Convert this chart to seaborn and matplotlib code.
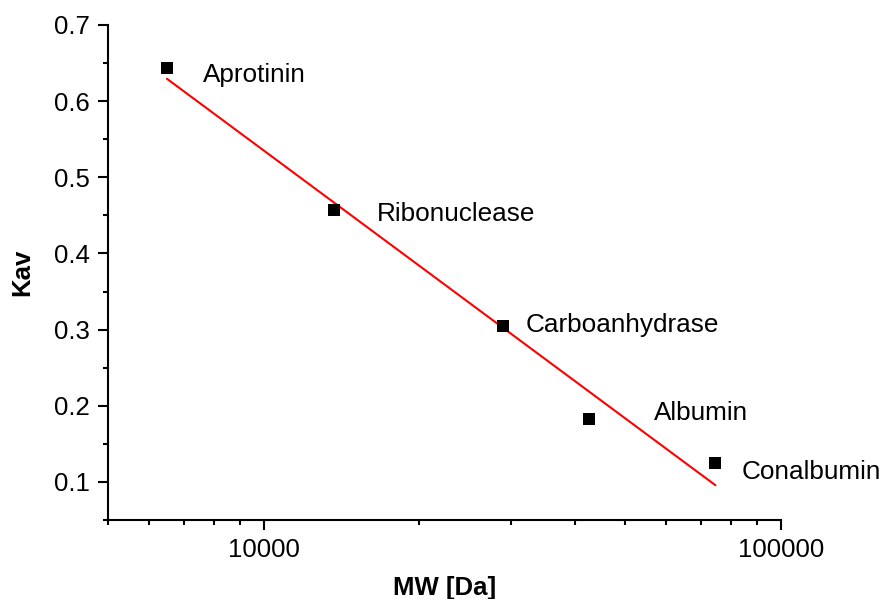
import numpy as np
import pandas as pd
import seaborn as sns
import matplotlib
matplotlib.use("Agg")
import matplotlib.pyplot as plt
from matplotlib.ticker import LogLocator, NullFormatter, FixedLocator, MultipleLocator

proteins = ["Aprotinin", "Ribonuclease", "Carboanhydrase", "Albumin", "Conalbumin"]
mw = [6500, 13700, 29000, 42600, 74700]
kav = [0.6435, 0.457, 0.3045, 0.182, 0.1253]
label_offsets = [(26, -5), (30.5, -2.5), (16.5, 0.5), (46.5, 4.5), (19, -6.5)]  # points

sns.set_theme(style="ticks")
plt.rcParams['font.family'] = ['Liberation Sans', 'DejaVu Sans']
plt.rcParams['text.color'] = 'black'
plt.rcParams['axes.labelcolor'] = 'black'

df = pd.DataFrame({"protein": proteins, "MW": mw, "Kav": kav})

fig = plt.figure(figsize=(8.84, 5.99), dpi=100)
ax = fig.add_axes([108/884, 1 - 520/599, (781-108)/884, (520-25)/599])

sns.regplot(data=df, x="MW", y="Kav", logx=True, ci=None, scatter=False,
            line_kws=dict(color="#ff0000", lw=1.5), ax=ax)
sns.scatterplot(data=df, x="MW", y="Kav", marker="s", s=64, color="black",
                edgecolor="black", linewidth=0, ax=ax, zorder=5)

for name, x, y, off in zip(proteins, mw, kav, label_offsets):
    ax.annotate(name, (x, y), xytext=off, textcoords="offset points",
                ha="left", va="center", fontsize=18.8, color="black")

ax.set_xscale("log")
ax.set_xlim(5000, 100000)
ax.set_ylim(0.05, 0.7)
ax.xaxis.set_major_locator(FixedLocator([10000, 100000]))
ax.xaxis.set_minor_locator(LogLocator(base=10, subs=np.arange(2, 10)))
ax.xaxis.set_minor_formatter(NullFormatter())
ax.set_xticklabels(["10000", "100000"])
ax.yaxis.set_major_locator(FixedLocator([0.1, 0.2, 0.3, 0.4, 0.5, 0.6, 0.7]))
ax.yaxis.set_minor_locator(MultipleLocator(0.05))
ax.set_yticklabels(["0.1", "0.2", "0.3", "0.4", "0.5", "0.6", "0.7"])

ax.tick_params(which="major", length=7, width=1.5, labelsize=18.5, colors="black", pad=6)
ax.tick_params(which="minor", length=3.8, width=1.5, colors="black")
for s in ["left", "bottom"]:
    ax.spines[s].set_linewidth(1.5)
    ax.spines[s].set_color("black")
sns.despine(ax=ax)

ax.set_xlabel("MW [Da]", fontsize=18.5, fontweight="bold", labelpad=10)
ax.set_ylabel("Kav", fontsize=18.5, fontweight="bold", labelpad=14)

fig.savefig("out.png", dpi=100)
